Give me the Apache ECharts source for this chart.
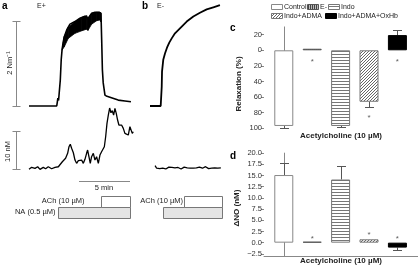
<!DOCTYPE html>
<html>
<head>
<meta charset="utf-8">
<script src="https://cdn.jsdelivr.net/npm/echarts@6/dist/echarts.min.js"></script>
<style>
  html, body { margin: 0; padding: 0; background: #fff; }
  #chart { width: 418px; height: 267px; }
</style>
</head>
<body>
<div id="chart"></div>
<script>
const FONT = 'Liberation Sans, Arial, sans-serif'

// panel a, force trace (min, N/m)
const forceATime = [0, 2.72, 2.78, 2.83, 2.90, 2.97, 3.07, 3.16, 3.24, 3.34, 3.46, 3.70, 4.02, 4.51, 5.00, 5.49, 5.78, 6.15, 6.47, 6.86, 7.06, 7.13, 7.20, 7.28, 7.45, 7.65, 7.94, 8.75, 9.41, 10.0]
const forceAValue = [0, 0, 0.10, 0.19, 0.13, 0.17, 0.62, 1.10, 1.33, 1.50, 1.65, 1.81, 1.95, 2.01, 2.09, 2.14, 2.08, 2.21, 2.23, 2.23, 2.21, 1.57, 0.86, 0.55, 0.26, 0.23, 0.21, 0.14, 0.12, 0.10]
// thick oscillating band on the plateau
const bandTime = [3.24, 3.46, 3.85, 4.51, 5.17, 5.66, 5.78, 6.15, 6.64, 6.96, 7.06]
const bandUpper = [1.33, 1.65, 1.87, 2.01, 2.11, 2.15, 2.08, 2.21, 2.23, 2.23, 2.21]
const bandLower = [1.33, 1.41, 1.61, 1.73, 1.79, 1.83, 1.80, 1.95, 2.03, 2.05, 2.00]

// panel a, NO trace (min, nM)
const noATime = [0, 0.26, 0.59, 0.85, 1.08, 1.40, 1.63, 1.89, 2.22, 2.55, 2.88, 3.04, 3.27, 3.46, 3.59, 3.79, 3.92, 4.05, 4.18, 4.35, 4.51, 4.67, 4.84, 5.00, 5.16, 5.33, 5.49, 5.65, 5.75, 5.88, 6.01, 6.14, 6.31, 6.47, 6.63, 6.80, 6.86, 6.96, 7.12, 7.29, 7.39, 7.52, 7.65, 7.78, 7.91, 8.04, 8.17, 8.30, 8.43, 8.56, 8.69, 8.82, 8.95, 9.08, 9.25, 9.41, 9.58, 9.74, 9.90, 10.0, 10.13, 10.23]
const noAValue = [0, 0.53, 0.27, 0.69, 0, 0.53, 0.16, 0.69, 0.16, 0.53, 0.69, 1.14, 2.02, 2.47, 2.93, 4.26, 6.0, 6.65, 5.59, 4.41, 2.47, 1.6, 2.29, 1.76, 2.47, 1.6, 2.66, 4.26, 5.13, 3.35, 1.6, 3.35, 4.26, 2.47, 3.35, 1.6, 1.14, 3.8, 4.68, 5.13, 6.0, 8.67, 12.23, 14.44, 16.3, 15.05, 15.59, 14.44, 16.2, 14.89, 13.11, 11.78, 11.33, 11.78, 10.9, 9.57, 10.0, 9.12, 11.33, 10.9, 9.57, 10.0]

// panel b, force trace
const forceBTime = [0, 1.05, 1.11, 1.15, 1.18, 1.30, 1.47, 1.70, 1.89, 2.13, 2.45, 2.94, 3.60, 4.25, 4.90, 5.56, 6.21, 6.86]
const forceBValue = [0, 0, 0, 0.46, 0.82, 1.10, 1.25, 1.41, 1.51, 1.61, 1.73, 1.85, 2.01, 2.13, 2.22, 2.30, 2.35, 2.40]

// panel b, NO trace
const noBTime = [0.5, 0.65, 0.8, 0.95, 1.1, 1.25, 1.4, 1.55, 1.7, 1.85, 2.0, 2.15, 2.3, 2.45, 2.6, 2.75, 2.9, 3.05, 3.2, 3.35, 3.5, 3.65, 3.8, 3.95, 4.1, 4.25, 4.4, 4.55, 4.7, 4.85, 5.0, 5.15, 5.3, 5.45, 5.6, 5.75, 5.9, 6.05, 6.2, 6.35, 6.5, 6.65, 6.8, 6.95]
const noBValue = [1.0, 0.3, 0.6, 0.2, 0.5, 0.3, 0.7, 0.1, 0.4, 0.6, 0.2, 0.5, 0.0, 0.4, 0.2, 0.5, 0.3, 0.1, 0.4, 0.6, 0.2, 0.4, 0.5, 0.3, 0.0, 0.3, 0.5, 0.4, 0.2, 0.6, 0.4, 0.3, 0.5, 0.7, 0.4, 0.2, 0.5, 0.3, 0.6, 0.4, 0.8, 0.3, 0.5, 0.4]

// drug application periods [start, end, row]  (row 1 = ACh, row 0 = NA)
const protocolA = [[2.87, 9.90, 0], [7.03, 9.90, 1]]
const protocolB = [[1.30, 7.09, 0], [3.36, 7.09, 1]]

// panels c and d
const categories = ['Control', 'E-', 'Indo', 'Indo+ADMA', 'Indo+ADMA+OxHb']
const relaxValues = [97, -2, 97, 66, -19.5]
const relaxErrors = [99, null, 98, 73, -26]
const relaxStars = [null, 15, null, 86, 15]
const noValues = [15.1, 0.2, 14.1, 0.75, -1.1]
const noErrors = [17.7, null, 17.1, null, -1.6]
const noStars = [null, 0.8, null, 1.7, 0.8]

function pattern(w, h, draw) {
  const cv = document.createElement('canvas')
  cv.width = w
  cv.height = h
  draw(cv.getContext('2d'))
  return { image: cv, repeat: 'repeat' }
}
const fills = [
  '#ffffff',
  pattern(2, 2, (c) => { c.fillStyle = '#bbb'; c.fillRect(0, 0, 2, 2); c.fillStyle = '#444'; c.fillRect(0, 0, 1, 2) }),
  pattern(4, 3, (c) => { c.fillStyle = '#fff'; c.fillRect(0, 0, 4, 3); c.fillStyle = '#777'; c.fillRect(0, 0, 4, 1) }),
  pattern(3, 3, (c) => { c.fillStyle = '#fff'; c.fillRect(0, 0, 3, 3); c.fillStyle = '#666'; c.fillRect(2, 0, 1, 1); c.fillRect(1, 1, 1, 1); c.fillRect(0, 2, 1, 1) }),
  '#000000'
]
const borders = ['#888', '#555', '#777', '#777', '#000']

const pairs = (xs, ys) => xs.map((x, i) => [x, ys[i]])

const grids = [
  { left: 29, top: 1, width: 105, height: 109.2 },
  { left: 29, top: 105.4, width: 105, height: 67.7 },
  { left: 29, top: 195.5, width: 105, height: 22 },
  { left: 150, top: 1, width: 73.4, height: 109.2 },
  { left: 150, top: 105.4, width: 73.4, height: 67.7 },
  { left: 150, top: 195.5, width: 73.4, height: 22 },
  { left: 264, top: 26.9, width: 154, height: 101.4 },
  { left: 264, top: 34.7, width: 154, height: 93.6 },
  { left: 264, top: 153.1, width: 154, height: 103 },
  { left: 264, top: 153.1, width: 154, height: 100.8 }
]
const hiddenX = (g, max) => ({ gridIndex: g, type: 'value', min: 0, max, show: false })
const hiddenY = (g, min, max, inverse) => ({ gridIndex: g, type: 'value', min, max, inverse: !!inverse, show: false })
const axisGray = '#888'
const barX = { type: 'value', min: -0.697, max: 4.725, axisTick: { show: false }, axisLabel: { show: false }, splitLine: { show: false } }

const xAxes = [
  hiddenX(0, 10.3), hiddenX(1, 10.3), hiddenX(2, 10.3),
  hiddenX(3, 7.2), hiddenX(4, 7.2), hiddenX(5, 7.2),
  Object.assign({ gridIndex: 6, axisLine: { show: false }, name: 'Acetylcholine (10 \u00B5M)', nameLocation: 'middle', nameGap: 3,
    nameTextStyle: { fontFamily: FONT, fontWeight: 'bold', fontSize: 8, color: '#222', verticalAlign: 'top' } }, barX),
  hiddenX(7, 1),
  Object.assign({ gridIndex: 8, axisLine: { show: true, onZero: false, lineStyle: { color: axisGray, width: 1 } }, name: 'Acetylcholine (10 \u00B5M)', nameLocation: 'middle', nameGap: 1,
    nameTextStyle: { fontFamily: FONT, fontWeight: 'bold', fontSize: 8, color: '#222', verticalAlign: 'top' } }, barX),
  hiddenX(9, 1)
]
const lineOnlyY = (g, min, max, inverse) => ({
  gridIndex: g, type: 'value', min, max, inverse: !!inverse,
  axisLine: { show: true, lineStyle: { color: axisGray, width: 1 } },
  axisTick: { show: false }, axisLabel: { show: false }, splitLine: { show: false }
})
const tickY = (g, min, max, interval, inverse, fmt) => ({
  gridIndex: g, type: 'value', min, max, interval, inverse: !!inverse,
  axisLine: { show: false },
  axisTick: { show: true, length: 3, lineStyle: { color: axisGray } },
  axisLabel: { fontFamily: FONT, fontSize: 7.5, color: '#333', margin: 2, formatter: fmt },
  splitLine: { show: false }
})
const yAxes = [
  hiddenY(0, -0.1, 2.5), hiddenY(1, -1, 17), hiddenY(2, 0, 2),
  hiddenY(3, -0.1, 2.5), hiddenY(4, -1, 17), hiddenY(5, 0, 2),
  lineOnlyY(6, -30, 100, true),
  tickY(7, -20, 100, 20, true, (v) => String(Math.abs(v))),
  lineOnlyY(8, -3, 20),
  tickY(9, -2.5, 20, 2.5, false, (v) => (v < 0 ? '\u2212' : '') + Math.abs(v).toFixed(1))
]

function trace(g, xs, ys, width) {
  return { type: 'line', xAxisIndex: g, yAxisIndex: g, data: pairs(xs, ys), showSymbol: false, symbol: 'none',
    lineStyle: { color: '#000', width }, z: 3 }
}
// filled region between the upper and lower envelope, one quad per step
function band(g, xs, upper, lower) {
  const data = xs.map((x, i) => [x, upper[i], lower[i]])
  return {
    type: 'custom', xAxisIndex: g, yAxisIndex: g, data, z: 4,
    renderItem: (params, api) => {
      const i = params.dataIndex
      if (i >= data.length - 1) return null
      const n = data[i + 1]
      const pts = [
        api.coord([data[i][0], data[i][1]]), api.coord([n[0], n[1]]),
        api.coord([n[0], n[2]]), api.coord([data[i][0], data[i][2]])
      ]
      return { type: 'polygon', shape: { points: pts }, style: { fill: '#000', stroke: '#000', lineWidth: 0.8 } }
    }
  }
}
function protocol(g, data) {
  return {
    type: 'custom', xAxisIndex: g, yAxisIndex: g, data,
    renderItem: (params, api) => {
      const p0 = api.coord([api.value(0), api.value(2) + 1])
      const p1 = api.coord([api.value(1), api.value(2)])
      const x = Math.round(p0[0]) + 0.5, y = Math.round(p0[1]) + 0.5
      return { type: 'rect', shape: { x, y, width: Math.round(p1[0] - p0[0]), height: Math.round(p1[1] - p0[1]) },
        style: { fill: api.value(2) === 0 ? '#e4e4e4' : '#fff', stroke: '#777', lineWidth: 1 } }
    }
  }
}
function errorBars(g, values, errors) {
  const data = []
  values.forEach((v, i) => { if (errors[i] != null) data.push([i, v, errors[i]]) })
  return {
    type: 'custom', xAxisIndex: g, yAxisIndex: g, data, z: 1,
    renderItem: (params, api) => {
      const a = api.coord([api.value(0), api.value(1)])
      const b = api.coord([api.value(0), api.value(2)])
      const x = Math.round(a[0]) + 0.5, yb = Math.round(b[1]) + 0.5
      return { type: 'group', children: [
        { type: 'line', shape: { x1: x, y1: a[1], x2: x, y2: yb }, style: { stroke: '#555', lineWidth: 1 } },
        { type: 'line', shape: { x1: x - 4.5, y1: yb, x2: x + 4.5, y2: yb }, style: { stroke: '#555', lineWidth: 1 } }
      ] }
    }
  }
}
function stars(g, values) {
  const data = []
  values.forEach((v, i) => { if (v != null) data.push([i, v]) })
  return { type: 'scatter', xAxisIndex: g, yAxisIndex: g, data, symbolSize: 0,
    label: { show: true, position: 'inside', formatter: '*', fontFamily: FONT, fontSize: 8, color: '#333' } }
}
function bars(g, values) {
  return categories.map((name, i) => ({
    type: 'bar', name, xAxisIndex: g, yAxisIndex: g, data: [[i, values[i]]],
    barWidth: 19, barGap: '-100%', z: 2,
    itemStyle: { color: fills[i], borderColor: borders[i], borderWidth: 1 }
  }))
}

const series = [
  trace(0, forceATime, forceAValue, 1.6),
  band(0, bandTime, bandUpper, bandLower),
  trace(1, noATime, noAValue, 1.3),
  protocol(2, protocolA),
  trace(3, forceBTime, forceBValue, 1.8),
  trace(4, noBTime, noBValue, 1.3),
  protocol(5, protocolB),
  ...bars(6, relaxValues),
  errorBars(6, relaxValues, relaxErrors),
  stars(6, relaxStars),
  ...bars(8, noValues),
  errorBars(8, noValues, noErrors),
  stars(8, noStars)
]

const txt = (x, y, text, extra) => ({ type: 'text', x, y, silent: true,
  style: Object.assign({ text, fontFamily: FONT, fontSize: 7.5, fill: '#222', align: 'left', verticalAlign: 'middle' }, extra || {}) })
const gline = (x1, y1, x2, y2) => ({ type: 'line', silent: true, shape: { x1, y1, x2, y2 }, style: { stroke: axisGray, lineWidth: 1 } })

// key swatches, tight spacing as in the figure
const keySpots = [[271.5, 4.5], [307.5, 4.5], [328.5, 4.5], [271.5, 13.5], [325.5, 13.5]]
const keyItems = []
categories.forEach((name, i) => {
  const [x, y] = keySpots[i]
  keyItems.push({ type: 'rect', silent: true, shape: { x, y, width: 11, height: 5 },
    style: { fill: fills[i], stroke: borders[i], lineWidth: 1 } })
  keyItems.push(txt(x + 12.5, y + 2.5, name, { fontSize: 7 }))
})

const graphic = [
  txt(2, 6, 'a', { fontWeight: 'bold', fontSize: 10, fill: '#000' }),
  txt(37, 6, 'E+', { fontSize: 7 }),
  txt(142, 6, 'b', { fontWeight: 'bold', fontSize: 10, fill: '#000' }),
  txt(157, 6, 'E-', { fontSize: 7 }),
  txt(230, 28, 'c', { fontWeight: 'bold', fontSize: 10, fill: '#000' }),
  txt(230, 156, 'd', { fontWeight: 'bold', fontSize: 10, fill: '#000' }),
  // scale bars
  gline(16.5, 21.5, 16.5, 106.5), gline(12.5, 21.5, 20.5, 21.5), gline(12.5, 106.5, 20.5, 106.5),
  gline(16.5, 131.5, 16.5, 169.5), gline(12.5, 131.5, 20.5, 131.5), gline(12.5, 169.5, 20.5, 169.5),
  gline(79, 181.5, 130, 181.5),
  { type: 'text', x: 10, y: 63, rotation: Math.PI / 2, silent: true,
    style: { text: '2 Nm\u207B\u00B9', fontFamily: FONT, fontSize: 7.5, fill: '#222', align: 'center', verticalAlign: 'middle' } },
  { type: 'text', x: 7.5, y: 151.5, rotation: Math.PI / 2, silent: true,
    style: { text: '10 nM', fontFamily: FONT, fontSize: 7.5, fill: '#222', align: 'center', verticalAlign: 'middle' } },
  txt(104, 187.5, '5 min', { align: 'center' }),
  txt(84.5, 201, 'ACh (10 \u00B5M)', { align: 'right' }),
  txt(55.5, 212, 'NA (0.5 \u00B5M)', { align: 'right' }),
  txt(183, 201, 'ACh (10 \u00B5M)', { align: 'right' }),
  { type: 'text', x: 238.5, y: 84, rotation: Math.PI / 2, silent: true,
    style: { text: 'Relaxation (%)', fontFamily: FONT, fontSize: 8, fontWeight: 'bold', fill: '#222', align: 'center', verticalAlign: 'middle' } },
  { type: 'text', x: 237, y: 208, rotation: Math.PI / 2, silent: true,
    style: { text: '\u0394NO (nM)', fontFamily: FONT, fontSize: 8, fontWeight: 'bold', fill: '#222', align: 'center', verticalAlign: 'middle' } },
  ...keyItems
]

const chart = echarts.init(document.getElementById('chart'), null, { renderer: 'canvas' })
chart.setOption({
  animation: false,
  backgroundColor: '#fff',
  grid: grids,
  xAxis: xAxes,
  yAxis: yAxes,
  graphic,
  series
})
</script>
</body>
</html>
